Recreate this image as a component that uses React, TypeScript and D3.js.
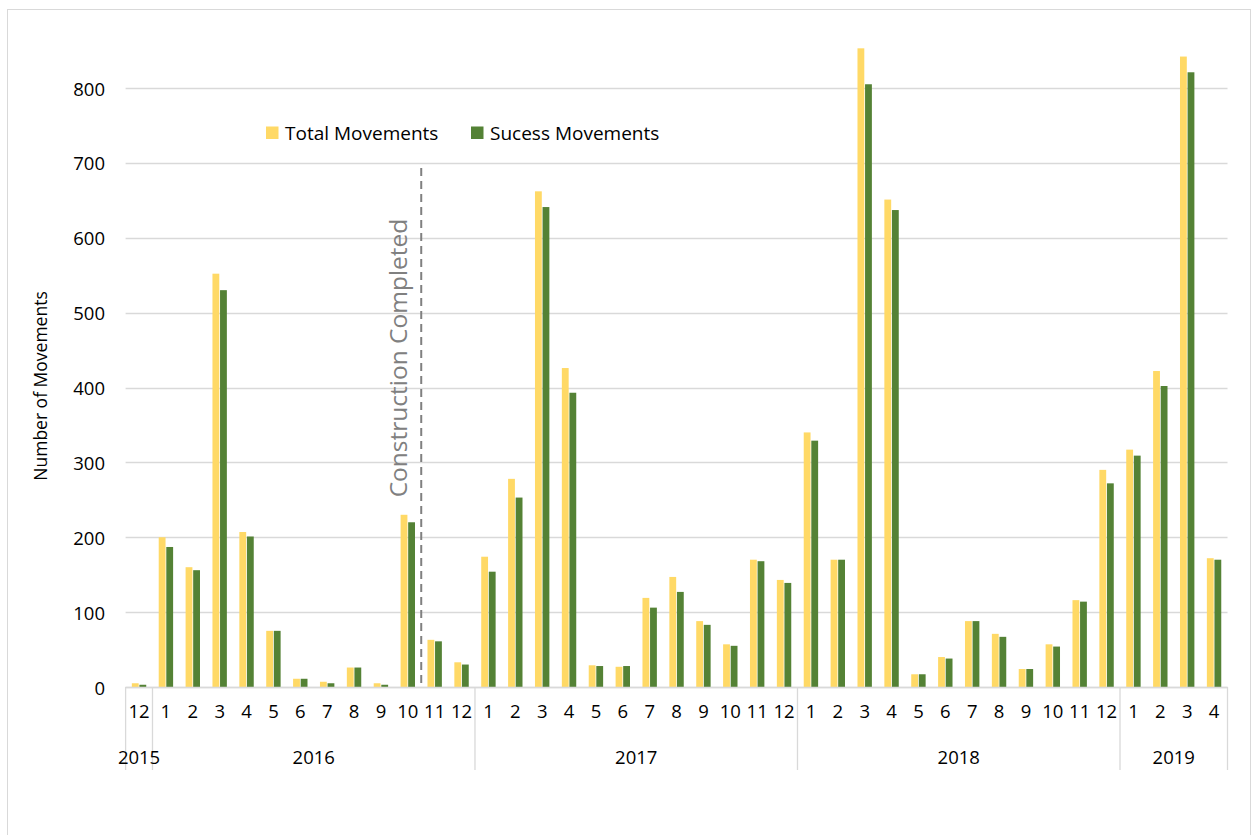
import React from "react";
import * as d3 from "d3";

const monthLabels = [
  "12",
  "1", "2", "3", "4", "5", "6", "7", "8", "9", "10", "11", "12",
  "1", "2", "3", "4", "5", "6", "7", "8", "9", "10", "11", "12",
  "1", "2", "3", "4", "5", "6", "7", "8", "9", "10", "11", "12",
  "1", "2", "3", "4",
];
const yearLabels = ["2015", "2016", "2017", "2018", "2019"];
const yearCounts = [1, 12, 12, 12, 4];
const totalMovements = [
  5,
  200, 160, 552, 207, 75, 11, 7, 26, 5, 230, 63, 33,
  174, 278, 662, 426, 29, 27, 119, 147, 88, 57, 170, 143,
  340, 170, 853, 651, 17, 40, 88, 71, 24, 57, 116, 290,
  317, 422, 842, 172,
];
const successMovements = [
  3,
  187, 156, 530, 201, 75, 11, 5, 26, 3, 220, 61, 30,
  154, 253, 641, 393, 28, 28, 106, 127, 83, 55, 168, 139,
  329, 170, 805, 637, 17, 38, 88, 67, 24, 54, 114, 272,
  309, 402, 821, 170,
];
const seriesNames = ["Total Movements", "Sucess Movements"];
const seriesColors = ["#FFD966", "#548235"];
const yTicks = [0, 100, 200, 300, 400, 500, 600, 700, 800];
const markerIndex = 11; // construction completed before 2016-11

const W = 1253;
const H = 835;
const FONT = "'Open Sans', 'Noto Sans', sans-serif";

export default function App() {
  const left = 125.6;
  const right = 1227.5;
  const y0 = 687;
  const y800 = 88;

  const idx = monthLabels.map((_, i) => i);
  const x = d3.scaleBand<number>().domain(idx).range([left, right]).paddingInner(0).paddingOuter(0);
  const y = d3.scaleLinear().domain([0, 800]).range([y0, y800]);
  const step = x.step();
  const inner = d3
    .scaleBand<number>()
    .domain([0, 1])
    .range([step / 2 - 7.2, step / 2 + 7.2])
    .paddingInner(0.1);

  const series = [totalMovements, successMovements];

  const boundaries: number[] = [0];
  yearCounts.forEach((c, i) => boundaries.push(boundaries[i] + c));

  const markerX = x(markerIndex) as number;

  return (
    <div style={{ position: "absolute", left: 0, top: 0 }}>
      <svg width={W} height={H} style={{ display: "block", background: "#fff" }}>
        <rect x={7.5} y={9.5} width={1243} height={840} fill="#fff" stroke="#d9d9d9" strokeWidth={1} />

        {yTicks.map((t) => (
          <line
            key={"g" + t}
            x1={left}
            x2={right}
            y1={Math.round(y(t)) + 0.5}
            y2={Math.round(y(t)) + 0.5}
            stroke="#d9d9d9"
            strokeWidth={1.3}
          />
        ))}

        {yTicks.map((t) => (
          <text
            key={"yl" + t}
            x={105}
            y={y(t)}
            textAnchor="end"
            dominantBaseline="central"
            fontFamily={FONT}
            fontSize={18.5}
            fill="#000"
          >
            {t}
          </text>
        ))}

        <text
          transform={`translate(40,386) rotate(-90)`}
          textAnchor="middle"
          dominantBaseline="central"
          fontFamily={FONT}
          fontSize={17.5}
          fill="#000"
        >
          Number of Movements
        </text>

        {series.map((vals, s) =>
          vals.map((v, i) => {
            const bx = (x(i) as number) + (inner(s) as number);
            return (
              <rect
                key={`b${s}-${i}`}
                x={bx}
                y={y(v)}
                width={inner.bandwidth()}
                height={y0 - y(v)}
                fill={seriesColors[s]}
              />
            );
          })
        )}

        <line x1={left} x2={right} y1={y0 + 0.5} y2={y0 + 0.5} stroke="#d9d9d9" strokeWidth={1.3} />

        {boundaries.map((b, i) => (
          <line
            key={"sep" + i}
            x1={left + b * step}
            x2={left + b * step}
            y1={y0}
            y2={770}
            stroke="#d9d9d9"
            strokeWidth={1.3}
          />
        ))}

        {monthLabels.map((m, i) => (
          <text
            key={"m" + i}
            x={(x(i) as number) + step / 2}
            y={718}
            textAnchor="middle"
            fontFamily={FONT}
            fontSize={18.5}
            fill="#000"
          >
            {m}
          </text>
        ))}

        {yearLabels.map((yl, i) => (
          <text
            key={"y" + yl}
            x={left + ((boundaries[i] + boundaries[i + 1]) / 2) * step}
            y={764}
            textAnchor="middle"
            fontFamily={FONT}
            fontSize={18.5}
            fill="#000"
          >
            {yl}
          </text>
        ))}

        <line
          x1={markerX}
          x2={markerX}
          y1={168}
          y2={y0}
          stroke="#808080"
          strokeWidth={2}
          strokeDasharray="8,5"
        />
        <text
          transform={`translate(397,358) rotate(-90)`}
          textAnchor="middle"
          dominantBaseline="central"
          fontFamily={FONT}
          fontSize={24.5}
          fill="#808080"
        >
          Construction Completed
        </text>

        {seriesNames.map((n, i) => {
          const lx = [266, 471][i];
          return (
            <g key={"lg" + i}>
              <rect x={lx} y={126.5} width={12.5} height={12.5} fill={seriesColors[i]} />
              <text
                x={lx + 19}
                y={133}
                dominantBaseline="central"
                fontFamily={FONT}
                fontSize={19}
                fill="#000"
              >
                {n}
              </text>
            </g>
          );
        })}
      </svg>
    </div>
  );
}
